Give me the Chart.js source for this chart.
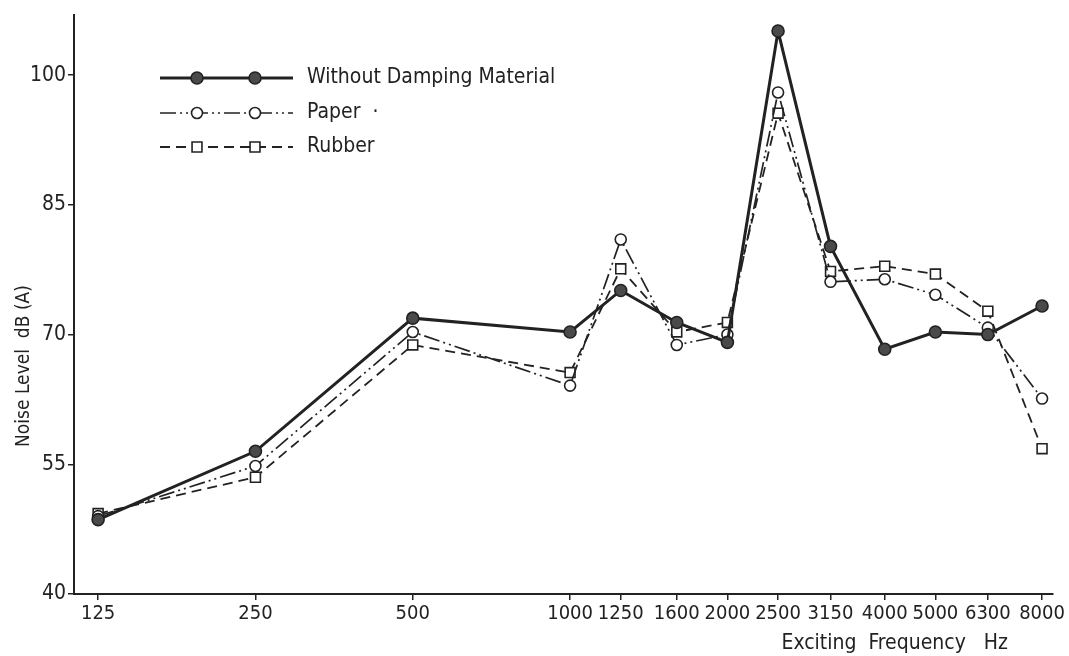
<!DOCTYPE html>
<html>
<head>
<meta charset="utf-8">
<script src="https://cdn.jsdelivr.net/npm/chart.js@4.4.1/dist/chart.umd.min.js"></script>
<style>
  html, body { margin: 0; padding: 0; background: #fff; }
  canvas { display: block; }
</style>
</head>
<body>
<canvas id="noiseChart" width="1069" height="656"></canvas>
<script>
// frequencies (Hz) and noise levels dB(A)
const freqs = [125, 250, 500, 1000, 1250, 1600, 2000, 2500, 3150, 4000, 5000, 6300, 8000];
const withoutDamping = [48.6, 56.5, 71.9, 70.3, 75.1, 71.4, 69.1, 105.1, 80.2, 68.3, 70.3, 70.0, 73.3];
const paper = [49.0, 54.8, 70.3, 64.1, 81.0, 68.8, 70.0, 98.0, 76.1, 76.4, 74.6, 70.8, 62.6];
const rubber = [49.3, 53.5, 68.8, 65.6, 77.6, 70.3, 71.4, 95.6, 77.3, 77.9, 77.0, 72.7, 56.8];
const yTicks = [40, 55, 70, 85, 100];

const seriesNames = ["Without Damping Material", "Paper", "Rubber"];

const ink = "#222";
const FONT = "'Liberation Sans Narrow', 'DejaVu Sans Condensed', 'Arial Narrow', sans-serif";

function toPoints(values) {
    return freqs.map((f, i) => ({ x: f, y: values[i] }));
}

const styles = [
    { borderWidth: 3, borderDash: [], pointStyle: "circle", pointRadius: 6, bg: "#4a4a4a" },
    { borderWidth: 1.7, borderDash: [16, 4, 2, 4, 2, 4], pointStyle: "circle", pointRadius: 5.5, bg: "#fff" },
    { borderWidth: 1.8, borderDash: [10, 6], pointStyle: "rect", pointRadius: 7, bg: "#fff" }
];

// legend + axis titles drawn by hand (legend has a line with two markers)
const paperDecor = {
    id: "paperDecor",
    afterDraw(chart) {
        const ctx = chart.ctx;
        ctx.save();
        ctx.fillStyle = ink;
        ctx.font = "21px " + FONT;
        ctx.textBaseline = "middle";

        const rows = [78, 113, 147];
        seriesNames.forEach((name, i) => {
            const st = styles[i];
            const y = rows[i];
            ctx.strokeStyle = ink;
            ctx.lineWidth = st.borderWidth;
            ctx.setLineDash(st.borderDash);
            ctx.beginPath();
            ctx.moveTo(160, y);
            ctx.lineTo(293, y);
            ctx.stroke();
            ctx.setLineDash([]);
            [197, 255].forEach(px => {
                ctx.fillStyle = st.bg;
                ctx.strokeStyle = ink;
                ctx.lineWidth = 1.6;
                Chart.helpers.drawPoint(ctx, { pointStyle: st.pointStyle, radius: st.pointRadius, rotation: 0, borderWidth: 1.6 }, px, y);
            });
            ctx.fillStyle = ink;
            ctx.textAlign = "left";
            ctx.fillText(name + (i === 1 ? "  \u00b7" : ""), 307, y);
        });

        // y title
        ctx.font = "19px " + FONT;
        ctx.save();
        ctx.translate(24, 366);
        ctx.rotate(-Math.PI / 2);
        ctx.textAlign = "center";
        ctx.fillText("Noise Level  dB (A)", 0, 0);
        ctx.restore();

        // x title
        ctx.font = "21px " + FONT;
        ctx.textAlign = "right";
        ctx.fillText("Exciting  Frequency   Hz", 1008, 644);
        ctx.restore();
    }
};

new Chart(document.getElementById("noiseChart"), {
    type: "line",
    data: {
        datasets: [withoutDamping, paper, rubber].map((vals, i) => ({
            label: seriesNames[i],
            data: toPoints(vals),
            borderColor: ink,
            borderWidth: styles[i].borderWidth,
            borderDash: styles[i].borderDash,
            pointStyle: styles[i].pointStyle,
            pointRadius: styles[i].pointRadius,
            pointBackgroundColor: styles[i].bg,
            pointBorderColor: ink,
            pointBorderWidth: 1.6,
            tension: 0,
            fill: false
        }))
    },
    options: {
        responsive: false,
        animation: false,
        devicePixelRatio: 1,
        layout: { padding: { top: 9, right: 16, left: 0, bottom: 0 } },
        plugins: {
            legend: { display: false },
            tooltip: { enabled: false }
        },
        scales: {
            x: {
                type: "logarithmic",
                min: 112.4,
                max: 8395,
                afterBuildTicks: s => { s.ticks = freqs.map(v => ({ value: v })); },
                afterFit: s => { s.height = 62; },
                grid: { drawOnChartArea: false, drawTicks: true, tickLength: 6, color: ink, lineWidth: 1.5 },
                border: { color: ink, width: 2 },
                ticks: {
                    autoSkip: false,
                    maxRotation: 0,
                    padding: 2,
                    color: ink,
                    font: { family: FONT, size: 20 },
                    callback: v => String(v)
                }
            },
            y: {
                type: "linear",
                min: 40,
                max: 107,
                afterBuildTicks: s => { s.ticks = yTicks.map(v => ({ value: v })); },
                afterFit: s => { s.width = 74; },
                grid: { drawOnChartArea: false, drawTicks: true, tickLength: 6, color: ink, lineWidth: 1.5 },
                border: { color: ink, width: 2 },
                ticks: {
                    autoSkip: false,
                    padding: 2,
                    color: ink,
                    font: { family: FONT, size: 21 },
                    callback: v => String(v)
                }
            }
        }
    },
    plugins: [paperDecor]
});
</script>
</body>
</html>
